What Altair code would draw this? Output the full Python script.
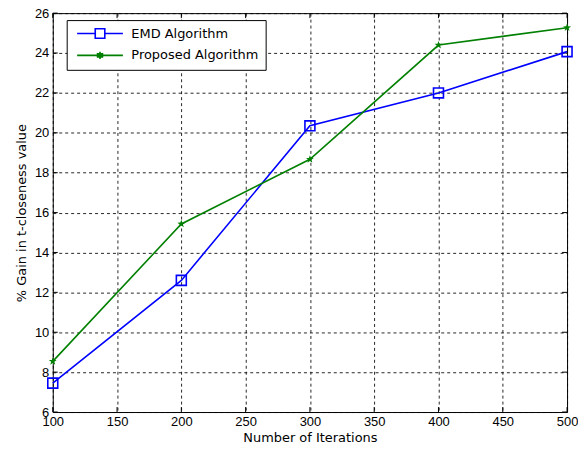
import altair as alt
import pandas as pd

iterations = [100, 200, 300, 400, 500]
emd = [7.45, 12.6, 20.35, 22.0, 24.07]
proposed = [8.54, 15.43, 18.67, 24.4, 25.27]
series_names = ["EMD Algorithm", "Proposed Algorithm"]
colors = ["#0000ff", "#008000"]
x_ticks = [100, 150, 200, 250, 300, 350, 400, 450, 500]
y_ticks = [6, 8, 10, 12, 14, 16, 18, 20, 22, 24, 26]

W, H = 517, 401
FONT = "DejaVu Sans"

df = pd.DataFrame(
    [{"series": series_names[0], "x": x, "y": y} for x, y in zip(iterations, emd)]
    + [{"series": series_names[1], "x": x, "y": y} for x, y in zip(iterations, proposed)]
)

xscale = alt.Scale(domain=[100, 500], nice=False, zero=False)
yscale = alt.Scale(domain=[6, 26], nice=False, zero=False)
cscale = alt.Scale(domain=series_names, range=colors)

xaxis = alt.Axis(values=x_ticks, title="Number of Iterations", grid=True, ticks=False,
                 labelPadding=4, titlePadding=3, labelFlush=False, labelOverlap=False)
yaxis = alt.Axis(values=y_ticks, title="% Gain in t-closeness value", grid=True, ticks=False,
                 labelPadding=4, titlePadding=6, labelFlush=False, labelOverlap=False)

X = alt.X("x:Q", scale=xscale, axis=xaxis)
Y = alt.Y("y:Q", scale=yscale, axis=yaxis)

base = alt.Chart(df)
emd_df = base.transform_filter(alt.datum.series == series_names[0])
prop_df = base.transform_filter(alt.datum.series == series_names[1])

emd_line = emd_df.mark_line(strokeWidth=1.6, color=colors[0]).encode(x=X, y=Y)
prop_line = prop_df.mark_line(strokeWidth=1.6, color=colors[1]).encode(x=X, y=Y)

emd_pts = emd_df.mark_point(
    shape="square", size=100, filled=False, strokeWidth=1.6, color=colors[0], opacity=1
).encode(x=X, y=Y)

star = "M0,-1L0.24,-0.33L0.95,-0.31L0.39,0.12L0.59,0.81L0,0.4L-0.59,0.81L-0.39,0.12L-0.95,-0.31L-0.24,-0.33Z"
prop_pts = prop_df.mark_point(
    shape=star, size=70, filled=True, color=colors[1], opacity=1
).encode(x=X, y=Y)

leg_emd = "M-5.75,0H-1.2M1.2,0H5.75M-1.2,-1.2H1.2V1.2H-1.2Z"
leg_prop = "M-5.75,0H5.75M0,-0.9V0.9M-0.8,-0.5L0.8,0.5M-0.8,0.5L0.8,-0.5M-0.4,-0.4H0.4V0.4H-0.4Z"

legend_layer = base.mark_point(opacity=0, filled=False).encode(
    x=X, y=Y,
    color=alt.Color("series:N", scale=cscale, legend=alt.Legend(
        title=None, orient="none", legendX=14, legendY=7,
        strokeColor="black", fillColor="white", padding=7,
        labelFont=FONT, labelFontSize=13, labelColor="black", labelOffset=25,
        symbolSize=64, symbolStrokeWidth=1.6, symbolOpacity=1, symbolOffset=20,
        symbolFillColor="transparent", rowPadding=6, cornerRadius=0,
    )),
    shape=alt.Shape("series:N", scale=alt.Scale(domain=series_names, range=[leg_emd, leg_prop])),
)

xt_bottom = alt.Chart(pd.DataFrame({"v": x_ticks})).mark_rule(color="black").encode(
    x=alt.X("v:Q", scale=xscale), y=alt.value(H), y2=alt.value(H - 5))
xt_top = alt.Chart(pd.DataFrame({"v": x_ticks})).mark_rule(color="black").encode(
    x=alt.X("v:Q", scale=xscale), y=alt.value(0), y2=alt.value(5))
yt_left = alt.Chart(pd.DataFrame({"v": y_ticks})).mark_rule(color="black").encode(
    y=alt.Y("v:Q", scale=yscale), x=alt.value(0), x2=alt.value(5))
yt_right = alt.Chart(pd.DataFrame({"v": y_ticks})).mark_rule(color="black").encode(
    y=alt.Y("v:Q", scale=yscale), x=alt.value(W), x2=alt.value(W - 5))

chart = alt.layer(
    xt_bottom, xt_top, yt_left, yt_right, emd_line, prop_line, emd_pts, prop_pts, legend_layer
).properties(
    width=W, height=H,
    autosize=alt.AutoSizeParams(type="none"),
    padding={"left": 45, "top": 4, "right": 11, "bottom": 34},
    background="white",
).configure_view(
    stroke="black", strokeWidth=1
).configure_axis(
    labelFont="Liberation Sans", titleFont=FONT, labelFontSize=13, titleFontSize=13,
    labelColor="black", titleColor="black", titleFontWeight="normal",
    domain=False, gridColor="black", gridDash=[3, 3], gridOpacity=0.85, gridWidth=1,
)

chart.save("out.html", embed_options={"renderer": "svg", "actions": False})
